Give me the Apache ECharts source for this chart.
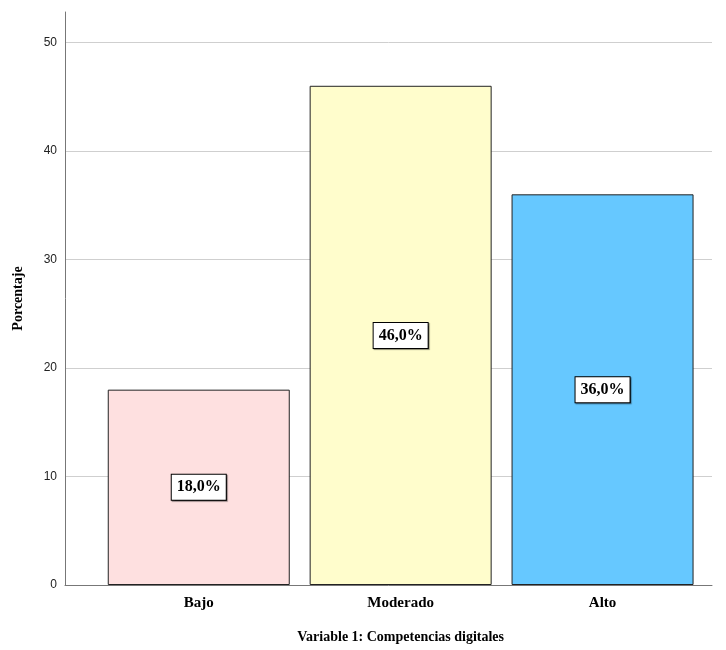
<!DOCTYPE html>
<html>
<head>
<meta charset="utf-8">
<script src="https://cdn.jsdelivr.net/npm/echarts@6/dist/echarts.min.js"></script>
<style>html,body{margin:0;padding:0;background:#fff}#c{width:726px;height:650px}</style>
</head>
<body>
<div id="c"></div>
<script>
const categories = ['Bajo', 'Moderado', 'Alto'];
const values = [18.0, 46.0, 36.0];
const barColors = ['#FEE0E0', '#FFFDCC', '#66C8FF'];
const yTicks = [0, 10, 20, 30, 40, 50];
const xTitle = 'Variable 1: Competencias digitales';
const yTitle = 'Porcentaje';

const yMax = 52.8;
const serif = '"Liberation Serif", "Times New Roman", serif';

const chart = echarts.init(document.getElementById('c'), null, {renderer: 'canvas'});
const gridColors = yTicks.map(() => '#cfcfcf').concat(['rgba(0,0,0,0)']);

chart.setOption({
  backgroundColor: '#fff',
  animation: false,
  grid: [
    {left: 65, right: 14, top: 12, bottom: 65},
    {left: 97.8, width: 605.7, top: 12, bottom: 65}
  ],
  xAxis: [
    {
      gridIndex: 0, type: 'category', data: [''],
      axisLine: {show: true, lineStyle: {color: '#777', width: 1}},
      axisTick: {show: false}, axisLabel: {show: false}, splitLine: {show: false}
    },
    {
      gridIndex: 1, type: 'category', data: categories,
      axisLine: {show: false}, axisTick: {show: false},
      axisLabel: {fontFamily: serif, fontWeight: 'bold', fontSize: 15, color: '#000', margin: 11},
      name: xTitle, nameLocation: 'middle', nameGap: 45,
      nameTextStyle: {fontFamily: serif, fontWeight: 'bold', fontSize: 14, color: '#000'}
    }
  ],
  yAxis: [
    {
      gridIndex: 0, type: 'value', min: 0, max: yMax, interval: 10,
      axisLine: {show: true, lineStyle: {color: '#777', width: 1}},
      axisTick: {show: false},
      axisLabel: {
        showMaxLabel: false, fontFamily: '"Liberation Sans", Arial, sans-serif', fontSize: 12, color: '#222', margin: 8,
        formatter: v => (yTicks.indexOf(v) >= 0 ? String(v) : '')
      },
      splitLine: {show: true, lineStyle: {color: gridColors, width: 1}},
      name: yTitle, nameLocation: 'middle', nameGap: 40, nameRotate: 90,
      nameTextStyle: {fontFamily: serif, fontWeight: 'bold', fontSize: 14, color: '#000'}
    },
    {
      gridIndex: 1, type: 'value', min: 0, max: yMax, interval: 10,
      axisLine: {show: false}, axisTick: {show: false}, axisLabel: {show: false}, splitLine: {show: false}
    }
  ],
  series: [{
    type: 'bar', xAxisIndex: 1, yAxisIndex: 1,
    barWidth: 182,
    data: values.map((v, i) => ({value: v, itemStyle: {color: barColors[i]}})),
    itemStyle: {borderColor: '#222', borderWidth: 1},
    label: {
      show: true, position: 'inside',
      formatter: p => p.value.toFixed(1).replace('.', ',') + '%',
      fontFamily: serif, fontWeight: 'bold', fontSize: 16, color: '#000',
      backgroundColor: '#fff', borderColor: '#000', borderWidth: 1,
      padding: [5, 5, 4, 5],
      shadowColor: 'rgba(0,0,0,0.45)', shadowOffsetX: 1, shadowOffsetY: 1, shadowBlur: 1
    }
  }]
});
</script>
</body>
</html>
